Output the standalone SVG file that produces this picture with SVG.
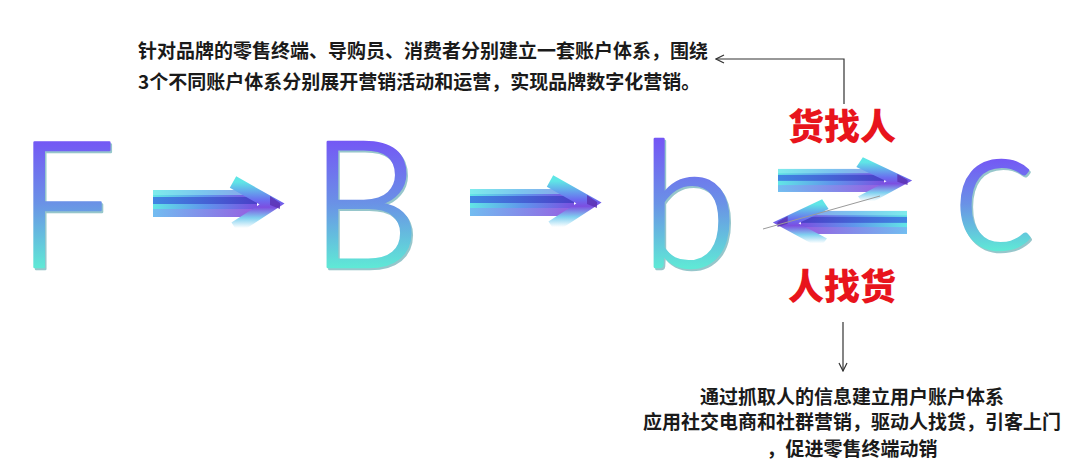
<svg xmlns="http://www.w3.org/2000/svg" xmlns:xlink="http://www.w3.org/1999/xlink" width="1080" height="471" viewBox="0 0 1080 471">
<style>
.big{font-family:Lato,"Open Sans","Liberation Sans",sans-serif;font-weight:300;font-size:176px;text-anchor:middle;stroke-width:2.6;stroke-linejoin:round}
.sh{fill:#2f8f98;stroke:#2f8f98;opacity:.5}
.note{font-family:"Noto Sans CJK SC","Noto Sans",sans-serif;font-weight:700;font-size:19px;fill:#1a1a1a;dominant-baseline:central}
.red{font-family:"Noto Sans CJK SC","Noto Sans",sans-serif;font-weight:900;font-size:36px;fill:#e8141c;text-anchor:middle;dominant-baseline:central}
.con{fill:none;stroke:#333;stroke-width:1.2}
</style>
<defs>
<linearGradient id="lg" gradientUnits="userSpaceOnUse" x1="0" y1="140" x2="0" y2="267">
<stop offset="0" stop-color="#7457f5"/><stop offset="0.5" stop-color="#6a92e6"/><stop offset="1" stop-color="#5fe8d6"/>
</linearGradient>
<linearGradient id="lgc" gradientUnits="userSpaceOnUse" x1="0" y1="158" x2="0" y2="250">
<stop offset="0" stop-color="#7457f5"/><stop offset="0.5" stop-color="#6a92e6"/><stop offset="1" stop-color="#5fe8d6"/>
</linearGradient>
<linearGradient id="shaftG" x1="0" y1="0" x2="1" y2="0">
<stop offset="0" stop-color="#62e6e6"/><stop offset="0.5" stop-color="#5f96ec"/><stop offset="1" stop-color="#7a50e0"/>
</linearGradient>
<linearGradient id="bandG" x1="0" y1="0" x2="1" y2="0">
<stop offset="0" stop-color="#3f86e2"/><stop offset="1" stop-color="#4a40c8"/>
</linearGradient>
<linearGradient id="lowG" x1="0" y1="0" x2="1" y2="0">
<stop offset="0" stop-color="#74b8f2"/><stop offset="1" stop-color="#9a5ee0"/>
</linearGradient>
<linearGradient id="chevG" x1="0" y1="0" x2="0" y2="1">
<stop offset="0" stop-color="#5fe6e6"/><stop offset="0.4" stop-color="#6a6cf0"/><stop offset="0.55" stop-color="#7c4ee0"/><stop offset="0.78" stop-color="#80d0f0"/><stop offset="1" stop-color="#ffffff"/>
</linearGradient>
<g id="arrowR">
<rect x="0" y="-13" width="104" height="27" fill="url(#shaftG)"/>
<rect x="0" y="-13" width="104" height="5" fill="#9af2f2" opacity=".5"/>
<rect x="0" y="-6" width="104" height="7" fill="url(#bandG)"/>
<rect x="0" y="6" width="104" height="8" fill="url(#lowG)" opacity=".9"/>
<polyline points="80,-21 119,1 82,25" fill="none" stroke="url(#chevG)" stroke-width="13" stroke-linejoin="miter"/>
<polygon points="117,-7 127,0 127,6 117,2" fill="#5a30b0" opacity=".8"/>
</g>
<marker id="ah" viewBox="0 0 10 10" refX="9" refY="5" markerWidth="10" markerHeight="10" markerUnits="userSpaceOnUse" orient="auto">
<path d="M1,1 L9,5 L1,9" fill="none" stroke="#333" stroke-width="1.2"/>
</marker>
</defs>
<rect width="1080" height="471" fill="#ffffff"/>

<g id="node-F">
<text class="big sh" x="67.5" y="268.5">F</text>
<text class="big" x="66" y="267" fill="url(#lg)" stroke="url(#lg)">F</text>
</g>
<g id="node-B">
<text class="big sh" x="366.5" y="268.5">B</text>
<text class="big" x="365" y="267" fill="url(#lg)" stroke="url(#lg)">B</text>
</g>
<g id="node-b">
<text class="big sh" x="690.5" y="268.5">b</text>
<text class="big" x="689" y="267" fill="url(#lg)" stroke="url(#lg)">b</text>
</g>
<g id="node-c">
<text class="big sh" x="995.5" y="250.5">c</text>
<text class="big" x="994" y="249" fill="url(#lgc)" stroke="url(#lgc)">c</text>
</g>

<g id="node-top-note">
<text class="note" x="138" y="49.5">针对品牌的零售终端、导购员、消费者分别建立一套账户体系，围绕</text>
<text class="note" x="138" y="80.5">3个不同账户体系分别展开营销活动和运营，实现品牌数字化营销。</text>
</g>
<g id="node-goods-find-people">
<text class="red" x="842" y="123.5">货找人</text>
</g>
<g id="node-people-find-goods">
<text class="red" x="842" y="283.5">人找货</text>
</g>
<g id="node-bottom-note">
<text class="note" x="852" y="395" text-anchor="middle">通过抓取人的信息建立用户账户体系</text>
<text class="note" x="852" y="420" text-anchor="middle">应用社交电商和社群营销，驱动人找货，引客上门</text>
<text class="note" x="852" y="447.5" text-anchor="middle">，促进零售终端动销</text>
</g>

<g id="connectors">
<use href="#arrowR" transform="translate(153,203)"/>
<use href="#arrowR" transform="translate(470,202)"/>
<use href="#arrowR" transform="translate(778,180) scale(1.02,0.85)"/>
<use href="#arrowR" transform="translate(907,222) scale(-1.02,0.85)"/>
<line x1="763" y1="229" x2="880" y2="196" stroke="#9a9a9a" stroke-width="1"/>
<polyline class="con" points="844,104 844,59 716,59" marker-end="url(#ah)"/>
<line class="con" x1="843" y1="322" x2="843" y2="371" marker-end="url(#ah)"/>
</g>
</svg>
